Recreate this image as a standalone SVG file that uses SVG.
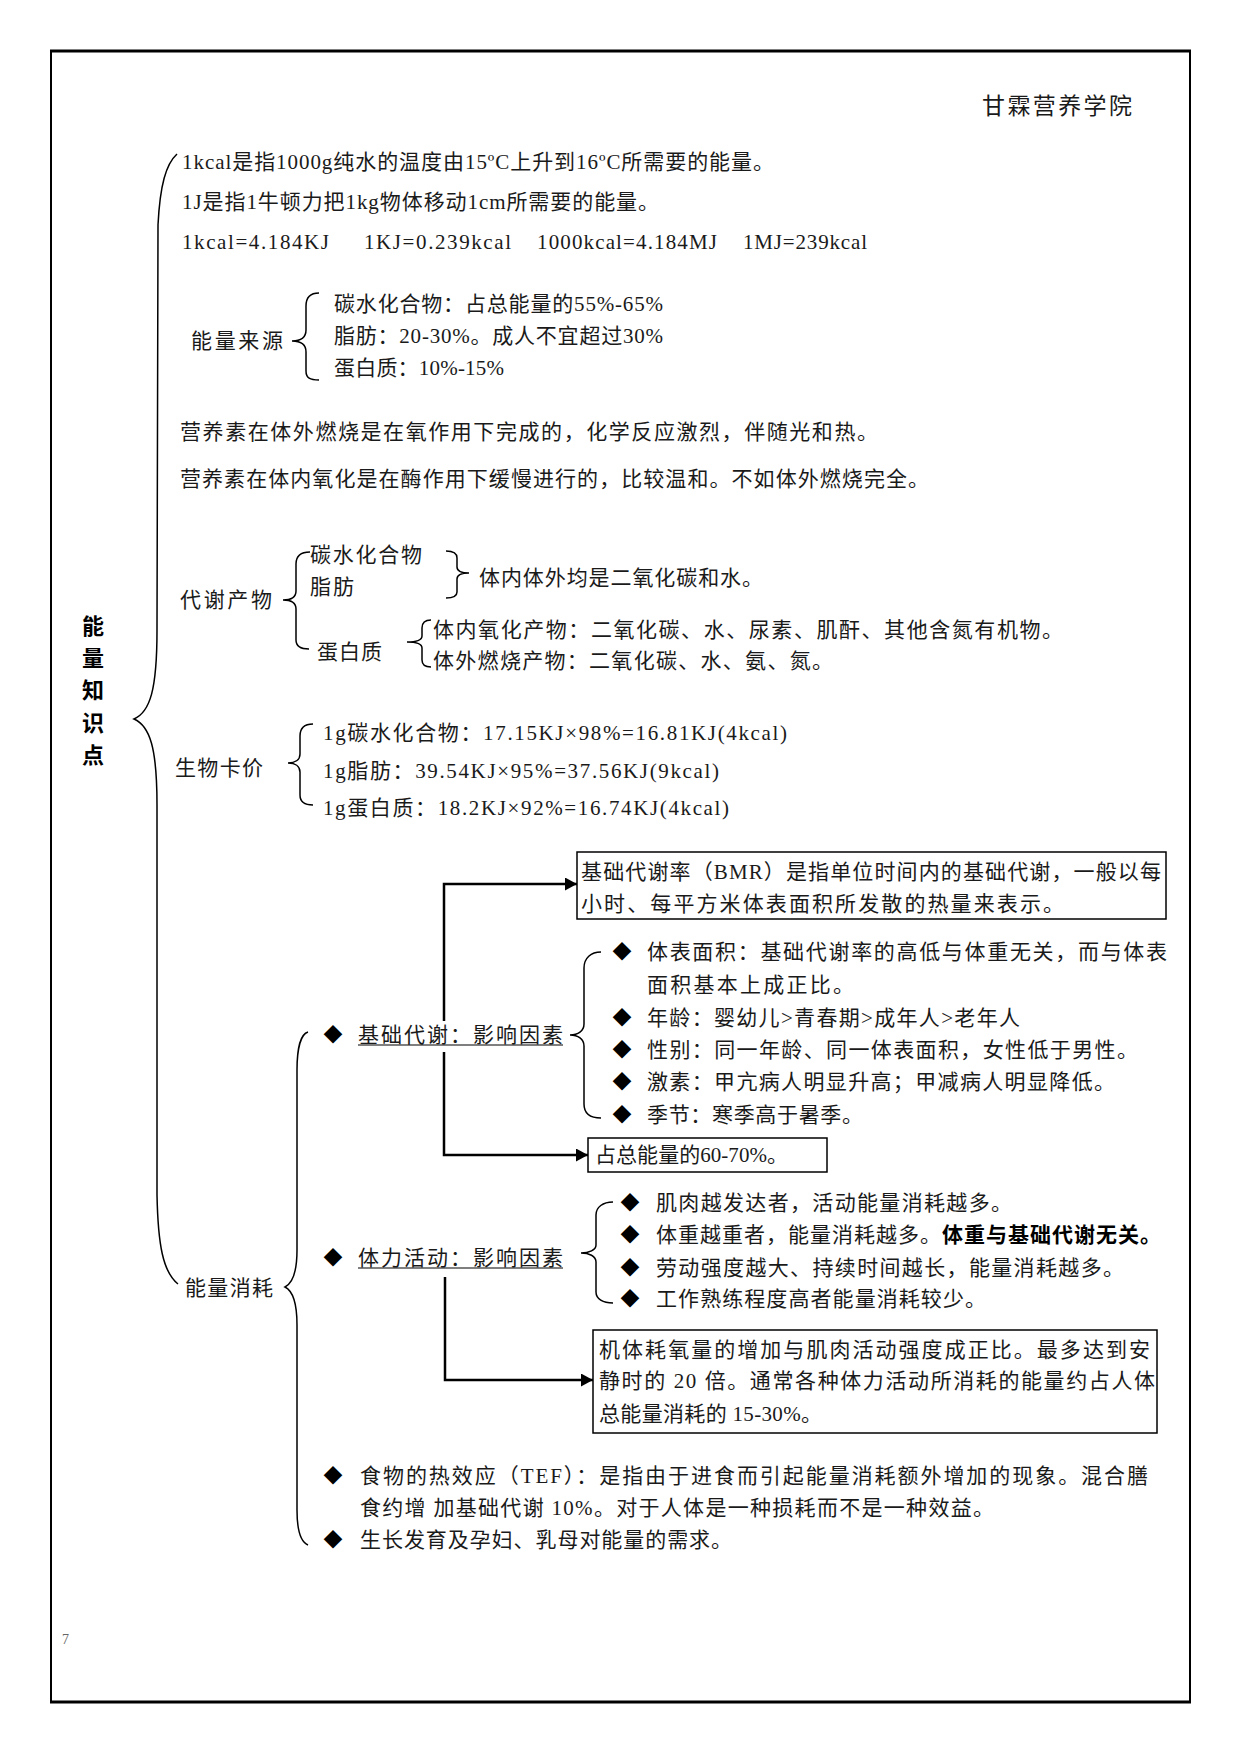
<svg xmlns="http://www.w3.org/2000/svg" width="1241" height="1754" viewBox="0 0 1241 1754">
<defs>
<style>
.t{font-family:"Liberation Serif","Noto Sans CJK SC",serif;font-size:21px;fill:#1a1a1a}
.h{font-size:23px}
.v{font-family:"Noto Sans CJK SC",sans-serif;font-size:22px;font-weight:bold;fill:#000;text-anchor:middle}
.d{font-family:"Noto Sans CJK SC",sans-serif;font-size:19px;fill:#000;text-anchor:middle}
.bd{font-weight:bold;fill:#000}
.br{fill:none;stroke:#000;stroke-width:1.5}
.cn{fill:none;stroke:#000;stroke-width:2.5}
.box{fill:#fff;stroke:#000;stroke-width:1.5}
.ul{stroke:#000;stroke-width:1.2}
</style>
<marker id="arr" markerUnits="userSpaceOnUse" markerWidth="13" markerHeight="13" refX="12" refY="6.5" orient="auto">
<path d="M0,0 L12,6.5 L0,13 z" fill="#000"/>
</marker>
</defs>
<rect x="0" y="0" width="1241" height="1754" fill="#fff"/>
<g id="frame">
<rect x="51" y="51" width="1139" height="1651" fill="none" stroke="#000" stroke-width="2"/>
<line x1="50" y1="51" x2="1191" y2="51" stroke="#000" stroke-width="3"/>
<line x1="50" y1="1702" x2="1191" y2="1702" stroke="#000" stroke-width="3"/>
</g>
<g id="header"><text class="t h" x="982" y="114" textLength="150">甘霖营养学院</text></g>
<g id="root">
<text class="v" x="93" y="634">能</text>
<text class="v" x="93" y="666">量</text>
<text class="v" x="93" y="698">知</text>
<text class="v" x="93" y="731">识</text>
<text class="v" x="93" y="763">点</text>
</g>
<g id="definitions">
<text class="t" x="182" y="169" textLength="592">1kcal是指1000g纯水的温度由15ºC上升到16ºC所需要的能量。</text>
<text class="t" x="182" y="209" textLength="477">1J是指1牛顿力把1kg物体移动1cm所需要的能量。</text>
<text class="t" x="182" y="249" textLength="147">1kcal=4.184KJ</text>
<text class="t" x="364" y="249" textLength="147">1KJ=0.239kcal</text>
<text class="t" x="537" y="249" textLength="180">1000kcal=4.184MJ</text>
<text class="t" x="743" y="249" textLength="124">1MJ=239kcal</text>
</g>
<g id="energy-source">
<text class="t" x="191" y="348" textLength="92">能量来源</text>
<path class="br" d="M319,293 C310,293 306,297 306,306 L306,330 C306,337 301,341 292,341 C301,341 306,345 306,352 L306,371 C306,378 310,380 319,380"/>
<text class="t" x="334" y="311" textLength="329">碳水化合物：占总能量的55%-65%</text>
<text class="t" x="334" y="343" textLength="329">脂肪：20-30%。成人不宜超过30%</text>
<text class="t" x="334" y="375" textLength="170">蛋白质：10%-15%</text>
</g>
<g id="oxidation">
<text class="t" x="180" y="439" textLength="698">营养素在体外燃烧是在氧作用下完成的，化学反应激烈，伴随光和热。</text>
<text class="t" x="180" y="486" textLength="749">营养素在体内氧化是在酶作用下缓慢进行的，比较温和。不如体外燃烧完全。</text>
</g>
<g id="metabolites">
<text class="t" x="180" y="607" textLength="92">代谢产物</text>
<path class="br" d="M310,552 C301,552 296,556 296,564 L296,591 C296,597 291,600 283,600 C291,600 296,603 296,609 L296,640 C296,646 300,649 309,649"/>
<text class="t" x="310" y="562" textLength="112">碳水化合物</text>
<text class="t" x="310" y="594" textLength="44">脂肪</text>
<path class="br" d="M446,551 C453,551 457,553 457,558 L457,567 C457,571 461,573 469,573 C461,573 457,575 457,579 L457,592 C457,596 453,598 446,598"/>
<text class="t" x="479" y="585" textLength="284">体内体外均是二氧化碳和水。</text>
<text class="t" x="317" y="659" textLength="65">蛋白质</text>
<path class="br" d="M431,620 C425,620 422,622 422,628 L422,636 C422,640 416,642 407,642 C416,642 422,644 422,648 L422,660 C422,665 425,667 431,667"/>
<text class="t" x="433" y="637" textLength="630">体内氧化产物：二氧化碳、水、尿素、肌酐、其他含氮有机物。</text>
<text class="t" x="433" y="668" textLength="400">体外燃烧产物：二氧化碳、水、氨、氮。</text>
</g>
<g id="calorie">
<text class="t" x="175" y="775" textLength="88">生物卡价</text>
<path class="br" d="M313,724 C304,724 300,728 300,736 L300,754 C300,760 295,763 288,763 C295,763 300,766 300,772 L300,795 C300,802 304,805 313,805"/>
<text class="t" x="323" y="740" textLength="464">1g碳水化合物：17.15KJ×98%=16.81KJ(4kcal)</text>
<text class="t" x="323" y="778" textLength="396">1g脂肪：39.54KJ×95%=37.56KJ(9kcal)</text>
<text class="t" x="323" y="815" textLength="406">1g蛋白质：18.2KJ×92%=16.74KJ(4kcal)</text>
</g>
<g id="consumption">
<text class="t" x="185" y="1295" textLength="88">能量消耗</text>
<path class="br" d="M308,1032 C301,1034 297,1048 297,1070 L297,1250 C297,1272 293,1283 285,1287 C293,1291 297,1302 297,1325 L297,1510 C297,1530 301,1542 308,1545"/>
</g>
<g id="bmr">
<text class="d" x="333" y="1042">◆</text>
<text class="t" x="358" y="1042" textLength="205">基础代谢：影响因素</text>
<line class="ul" x1="358" y1="1045" x2="563" y2="1045"/>
</g>
<g id="bmr-def">
<rect class="box" x="577" y="852" width="589" height="67"/>
<text class="t" x="581" y="879" textLength="580">基础代谢率（BMR）是指单位时间内的基础代谢，一般以每</text>
<text class="t" x="581" y="911" textLength="483">小时、每平方米体表面积所发散的热量来表示。</text>
</g>
<g id="bmr-factors">
<path class="br" d="M601,952 C591,952 584,958 584,968 L584,1024 C584,1031 578,1035 570,1035 C578,1035 584,1039 584,1046 L584,1104 C584,1114 591,1118 601,1118"/>
<text class="d" x="622" y="959">◆</text>
<text class="t" x="647" y="959" textLength="520">体表面积：基础代谢率的高低与体重无关，而与体表</text>
<text class="t" x="647" y="992" textLength="207">面积基本上成正比。</text>
<text class="d" x="622" y="1025">◆</text>
<text class="t" x="647" y="1025" textLength="373">年龄：婴幼儿&gt;青春期&gt;成年人&gt;老年人</text>
<text class="d" x="622" y="1057">◆</text>
<text class="t" x="647" y="1057" textLength="491">性别：同一年龄、同一体表面积，女性低于男性。</text>
<text class="d" x="622" y="1089">◆</text>
<text class="t" x="647" y="1089" textLength="468">激素：甲亢病人明显升高；甲减病人明显降低。</text>
<text class="d" x="622" y="1122">◆</text>
<text class="t" x="647" y="1122" textLength="216">季节：寒季高于暑季。</text>
</g>
<g id="bmr-share">
<rect class="box" x="588" y="1138" width="239" height="34"/>
<text class="t" x="595" y="1162" textLength="193">占总能量的60-70%。</text>
</g>
<g id="activity">
<text class="d" x="333" y="1265">◆</text>
<text class="t" x="358" y="1265" textLength="205">体力活动：影响因素</text>
<line class="ul" x1="358" y1="1268" x2="563" y2="1268"/>
</g>
<g id="activity-factors">
<path class="br" d="M613,1202 C603,1202 596,1207 596,1215 L596,1245 C596,1250 589,1253 581,1253 C589,1253 596,1256 596,1262 L596,1292 C596,1299 603,1303 613,1303"/>
<text class="d" x="630" y="1210">◆</text>
<text class="t" x="656" y="1210" textLength="356">肌肉越发达者，活动能量消耗越多。</text>
<text class="d" x="630" y="1242">◆</text>
<text class="t" x="656" y="1242" textLength="505">体重越重者，能量消耗越多。<tspan class="bd">体重与基础代谢无关。</tspan></text>
<text class="d" x="630" y="1275">◆</text>
<text class="t" x="656" y="1275" textLength="468">劳动强度越大、持续时间越长，能量消耗越多。</text>
<text class="d" x="630" y="1306">◆</text>
<text class="t" x="656" y="1306" textLength="330">工作熟练程度高者能量消耗较少。</text>
</g>
<g id="activity-def">
<rect class="box" x="593" y="1330" width="564" height="103"/>
<text class="t" x="599" y="1357" textLength="551">机体耗氧量的增加与肌肉活动强度成正比。最多达到安</text>
<text class="t" x="599" y="1388" textLength="556">静时的 20 倍。通常各种体力活动所消耗的能量约占人体</text>
<text class="t" x="599" y="1421" textLength="223">总能量消耗的 15-30%。</text>
</g>
<g id="tef">
<text class="d" x="333" y="1483">◆</text>
<text class="t" x="360" y="1483" textLength="788">食物的热效应（TEF）：是指由于进食而引起能量消耗额外增加的现象。混合膳</text>
<text class="t" x="360" y="1515" textLength="634">食约增 加基础代谢 10%。对于人体是一种损耗而不是一种效益。</text>
</g>
<g id="growth">
<text class="d" x="333" y="1547">◆</text>
<text class="t" x="360" y="1547" textLength="372">生长发育及孕妇、乳母对能量的需求。</text>
</g>
<g id="page-number"><text x="62" y="1644" font-family="Liberation Serif, serif" font-size="14" fill="#666">7</text></g>
<g id="connectors">
<path class="br" d="M177,154 C166,164 160,185 158,225 L157,630 C157,690 150,712 134,719 C150,726 157,748 157,805 L157,1195 C158,1245 163,1272 178,1284"/>
<path class="cn" d="M444,1021 V884 H577" marker-end="url(#arr)"/>
<path class="cn" d="M444,1052 V1155 H588" marker-end="url(#arr)"/>
<path class="cn" d="M445,1277 V1380 H593" marker-end="url(#arr)"/>
</g>
</svg>
